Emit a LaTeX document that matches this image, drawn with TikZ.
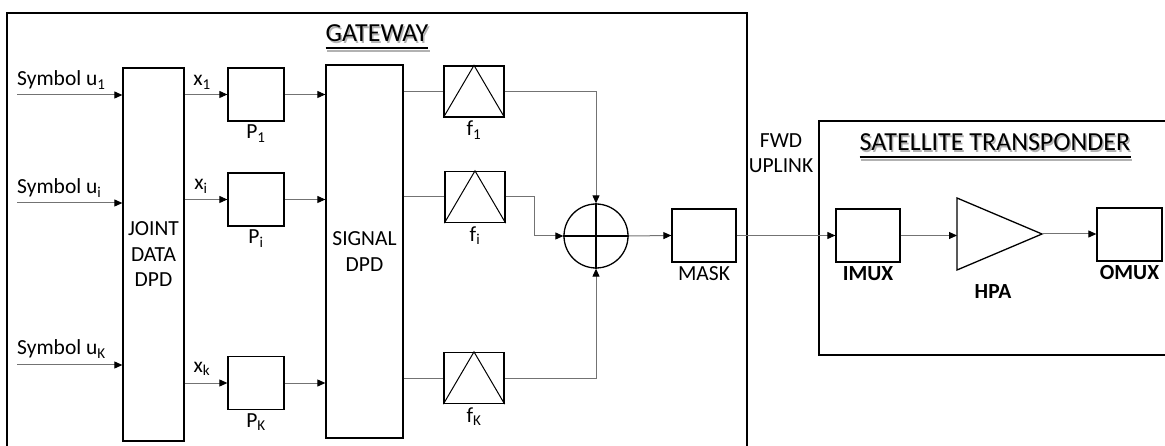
\documentclass[tikz,border=0pt]{standalone}
\usepackage{fontspec}
\setmainfont{Carlito}
\usetikzlibrary{arrows.meta,calc}

\begin{document}
\begin{tikzpicture}[x=1pt,y=-1pt,
  every node/.style={font=\fontsize{21.5}{25.5}\selectfont},
  blk/.style={draw,line width=1.3pt,inner sep=0pt,align=center},
  pbox/.style={blk,minimum width=56pt,minimum height=53pt},
  fbox/.style={blk,minimum width=60pt,minimum height=51pt},
  sbox/.style={blk,minimum width=64pt,minimum height=53pt},
  conn/.style={draw=black!55,line width=1pt,-{Triangle[length=8pt,width=7pt,color=black]}},
  wire/.style={draw=black!55,line width=1pt},
  title/.style={font=\fontsize{26}{30}\selectfont,inner sep=0pt,anchor=base}]
\useasboundingbox (0,0) rectangle (1165,446);

% frames
\draw[line width=1.3pt] (7,450) |- (747,13) -- (747,450);
\draw[line width=1.3pt] (819,121) rectangle (1175,355);

% titles
\node[title,text=black!30] (gws) at (378.5,43.5) {GATEWAY};
\draw[line width=2pt,black!30] ([yshift=-7.5pt]gws.base west) -- ([yshift=-7.5pt]gws.base east);
\node[title] (gw) at (377,42) {GATEWAY};
\draw[line width=2pt] ([yshift=-6pt]gw.base west) -- ([yshift=-6pt]gw.base east);
\node[title,text=black!30] (sts) at (996.5,152.5) {SATELLITE TRANSPONDER};
\draw[line width=2pt,black!30] ([yshift=-7.5pt]sts.base west) -- ([yshift=-7.5pt]sts.base east);
\node[title] (st) at (995,151) {SATELLITE TRANSPONDER};
\draw[line width=2pt] ([yshift=-6pt]st.base west) -- ([yshift=-6pt]st.base east);

% gateway blocks
\node[blk,minimum width=61pt,minimum height=373pt] (jdpd) at (153.5,254.5) {JOINT\\DATA\\DPD};
\node[blk,minimum width=77pt,minimum height=373pt] (sdpd) at (364.5,251.5) {SIGNAL\\DPD};

\node[pbox,label={below:P\textsubscript{1}}] (p1) at (256,94.5) {};
\node[pbox,label={below:P\textsubscript{i}}] (pi) at (256,199.5) {};
\node[pbox,label={below:P\textsubscript{K}}] (pk) at (256,383) {};

\node[fbox,label={below:f\textsubscript{1}}] (f1) at (474,91.5) {};
\node[fbox,label={below:f\textsubscript{i}}] (fi) at (475,197) {};
\node[fbox,label={below:f\textsubscript{K}}] (fk) at (474,378) {};
\foreach \f in {f1,fi,fk}
  \draw[line width=1pt] (\f.south west) -- (\f.north) -- (\f.south east);

\node[draw,circle,line width=1.3pt,minimum size=64pt,inner sep=0pt] (sum) at (596,236) {};
\draw[line width=1.3pt] (sum.north) -- (sum.south) (sum.west) -- (sum.east);

\node[sbox,label={below:MASK}] (mask) at (704,235.5) {};

% inputs
\coordinate (u1) at (17,95);
\coordinate (ui) at (17,203);
\coordinate (uk) at (17,365);
\node[anchor=base west,inner sep=0pt] (lu1) at (17,86) {Symbol u\textsubscript{1}};
\node[anchor=base west,inner sep=0pt] (lui) at (17,194) {Symbol u\textsubscript{i}};
\node[anchor=base west,inner sep=0pt] (luk) at (17,355) {Symbol u\textsubscript{K}};
\draw[conn] (u1) -- (u1 -| jdpd.west);
\draw[conn] (ui) -- (ui -| jdpd.west);
\draw[conn] (uk) -- (uk -| jdpd.west);

% joint dpd to precoders
\node[anchor=base,inner sep=0pt] (lx1) at (202,86) {x\textsubscript{1}};
\node[anchor=base,inner sep=0pt] (lxi) at (201,190) {x\textsubscript{i}};
\node[anchor=base,inner sep=0pt] (lxk) at (202,372) {x\textsubscript{k}};
\draw[conn] (p1.west -| jdpd.east) -- (p1.west);
\draw[conn] (pi.west -| jdpd.east) -- (pi.west);
\draw[conn] (pk.west -| jdpd.east) -- (pk.west);

\draw[conn] (p1.east) -- (p1.east -| sdpd.west);
\draw[conn] (pi.east) -- (pi.east -| sdpd.west);
\draw[conn] (pk.east) -- (pk.east -| sdpd.west);

\draw[wire] (f1.west -| sdpd.east) -- (f1.west);
\draw[wire] (fi.west -| sdpd.east) -- (fi.west);
\draw[wire] (fk.west -| sdpd.east) -- (fk.west);

% combiner
\draw[conn] (f1.east) -| (sum.north);
\draw[conn] (fi.east) -- ++(29,0) |- (sum.west);
\draw[conn] (fk.east) -| (sum.south);
\draw[conn] (sum.east) -- (mask.west);

\node[align=center] (fwd) at (781,153) {FWD\\UPLINK};

% transponder
\node[sbox,label={below:\textbf{IMUX}}] (imux) at (868,235.5) {};
\node[sbox,minimum width=65pt,label={below:\textbf{OMUX}}] (omux) at (1129.5,234.5) {};
\coordinate (hpaA) at (957,198);
\coordinate (hpaB) at (957,270);
\coordinate (hpaC) at (1042,234);
\draw[line width=1.3pt] (hpaA) -- (hpaC) -- (hpaB) -- cycle;
\node (hpa) at (993,292) {\textbf{HPA}};

\draw[conn] (mask.east) -- (imux.west);
\draw[conn] (imux.east) -- (imux.east -| hpaA);
\draw[conn] (hpaC) -- (hpaC -| omux.west);
\end{tikzpicture}
\end{document}
